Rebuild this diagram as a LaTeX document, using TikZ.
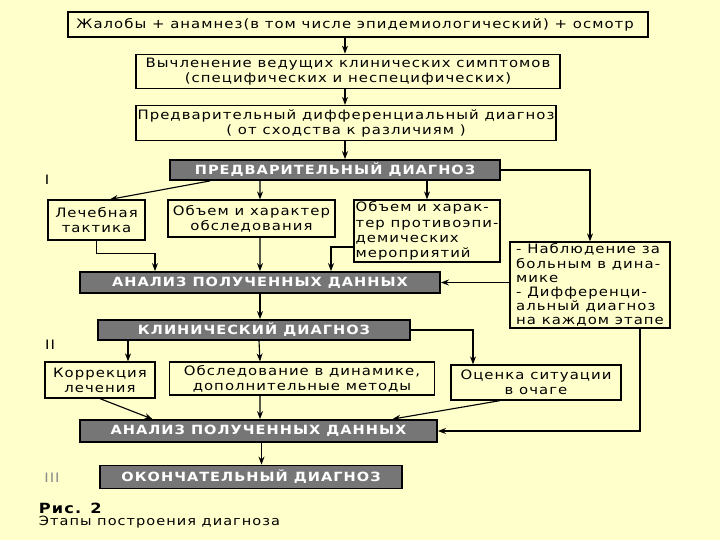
\documentclass[tikz,border=0pt]{standalone}
\usepackage{fontspec}
\setmainfont{DejaVu Sans}[FakeStretch=1.15, LetterSpace=8]
\usepackage{tikz}
\usetikzlibrary{arrows.meta, positioning}
\definecolor{paper}{RGB}{255,255,204}
\definecolor{stagegray}{RGB}{118,118,118}
\newlength\unitpx
\setlength\unitpx{0.025cm}

\begin{document}
\begin{tikzpicture}[
x=0.025cm, y=-0.025cm,
every node/.style={font=\fontsize{9.2}{10.8}\selectfont},
process/.style={
    rectangle,
    draw=black,
    line width=0.9pt,
    align=center,
    inner sep=0pt
},
stage/.style={
    rectangle,
    draw=black,
    line width=1.3pt,
    fill=stagegray,
    text=white,
    font=\fontsize{9}{10.5}\selectfont\bfseries,
    inner sep=0pt
},
arrow/.style={
    -{Stealth[length=2mm]},
    thick
}
]

\fill[paper] (0,0) rectangle (720,540);

\node (complaints) [process, minimum width=580\unitpx, minimum height=25\unitpx] at (358,24.5) {
Жалобы + анамнез(в том числе эпидемиологический) + осмотр
};

\node (symptoms) [process, minimum width=424\unitpx, minimum height=34\unitpx, below=16\unitpx of complaints, xshift=-10\unitpx] {
Вычленение ведущих клинических симптомов\\
(специфических и неспецифических)
};

\node (diffdiag) [process, minimum width=420\unitpx, minimum height=35\unitpx, below=16\unitpx of symptoms, xshift=-2\unitpx] {
Предварительный дифференциальный диагноз\\
( от сходства к различиям )
};

\node (prelim) [stage, minimum width=330\unitpx, minimum height=20\unitpx] at (335,170) {ПРЕДВАРИТЕЛЬНЫЙ ДИАГНОЗ};

\node (tactics) [process, minimum width=97\unitpx, minimum height=40\unitpx] at (96.5,220) {
Лечебная\\
тактика
};

\node (exam) [process, minimum width=167\unitpx, minimum height=37\unitpx] at (251.5,218.5) {
Объем и характер\\
обследования
};

\node (antiepid) [process, minimum width=146\unitpx, minimum height=62\unitpx, align=left] at (427,231) {
Объем и харак-\\
тер противоэпи-\\
демических\\
мероприятий
};

\node (observe) [process, minimum width=160\unitpx, minimum height=86\unitpx, align=left, font=\fontsize{9.2}{10}\selectfont] at (590,285) {
- Наблюдение за\\
больным в дина-\\
мике\\
- Дифференци-\\
альный диагноз\\
на каждом этапе
};

\node (analysis1) [stage, minimum width=360\unitpx, minimum height=21\unitpx] at (260,282.5) {АНАЛИЗ ПОЛУЧЕННЫХ ДАННЫХ};

\node (clinical) [stage, minimum width=312\unitpx, minimum height=20\unitpx] at (254,330) {КЛИНИЧЕСКИЙ ДИАГНОЗ};

\node (correction) [process, minimum width=110\unitpx, minimum height=36\unitpx] at (100,380) {
Коррекция\\
лечения
};

\node (dynexam) [process, minimum width=265\unitpx, minimum height=33\unitpx] at (302,378.5) {
Обследование в динамике,\\
дополнительные методы
};

\node (focus) [process, minimum width=170\unitpx, minimum height=35\unitpx] at (536,382.5) {
Оценка ситуации\\
в очаге
};

\node (analysis2) [stage, minimum width=357\unitpx, minimum height=22\unitpx] at (258.5,431) {АНАЛИЗ ПОЛУЧЕННЫХ ДАННЫХ};

\node (final) [stage, minimum width=302\unitpx, minimum height=23\unitpx] at (251,477) {ОКОНЧАТЕЛЬНЫЙ ДИАГНОЗ};

% stage numbers
\node (stageI) at (47,180) {I};
\node (stageII) at (50,345) {II};
\node (stageIII) [text=black!45] at (52,478) {III};

% caption
\node (fignum) [anchor=west, font=\fontsize{10}{12}\selectfont\bfseries] at (34,508) {Рис. 2};
\node (figtitle) [anchor=west, font=\fontsize{9}{11}\selectfont] at (34,522) {Этапы построения диагноза};

\coordinate (spine) at (345,0);

\draw [arrow] (complaints.south -| spine) -- (symptoms.north -| spine);
\draw [arrow] (symptoms.south -| spine) -- (diffdiag.north -| spine);
\draw [arrow] (diffdiag.south -| spine) -- (prelim.north -| spine);

\draw [arrow] ([xshift=-125\unitpx]prelim.south) -- ([xshift=13.5\unitpx]tactics.north);
\draw [arrow] ([xshift=-75\unitpx]prelim.south) -- ([xshift=8.5\unitpx]exam.north);
\draw [arrow] ([xshift=92\unitpx]prelim.south) -- (antiepid.north);
\draw [arrow] (prelim.east) -| (observe.north);

\draw [arrow] (tactics.south) -- ++(0,13) -| ([xshift=-105\unitpx]analysis1.north);
\draw [arrow] ([xshift=8.5\unitpx]exam.south) -- (analysis1.north);
\draw [arrow] ([yshift=-16\unitpx]antiepid.west) -| ([xshift=71\unitpx]analysis1.north);
\draw [arrow] (observe.west |- analysis1.east) -- (analysis1.east);

\draw [arrow] (analysis1.south) -- (analysis1.south |- clinical.north);

\draw [arrow] ([xshift=-126\unitpx]clinical.south) -- ([xshift=28\unitpx]correction.north);
\draw [arrow] ([xshift=5\unitpx]clinical.south) -- ([xshift=-42\unitpx]dynexam.north);
\draw [arrow] (clinical.east) -| ([xshift=-63\unitpx]focus.north);

\draw [arrow] (correction.south) -- ([xshift=-106\unitpx]analysis2.north);
\draw [arrow] ([xshift=-42\unitpx]dynexam.south) -- ([xshift=1.5\unitpx]analysis2.north);
\draw [arrow] ([xshift=-36\unitpx]focus.south) -- ([xshift=134\unitpx]analysis2.north);
\draw [arrow] ([xshift=50\unitpx]observe.south) |- (analysis2.east);

\draw [arrow] ([xshift=3\unitpx]analysis2.south) -- ([xshift=3\unitpx]analysis2.south |- final.north);

\end{tikzpicture}
\end{document}
